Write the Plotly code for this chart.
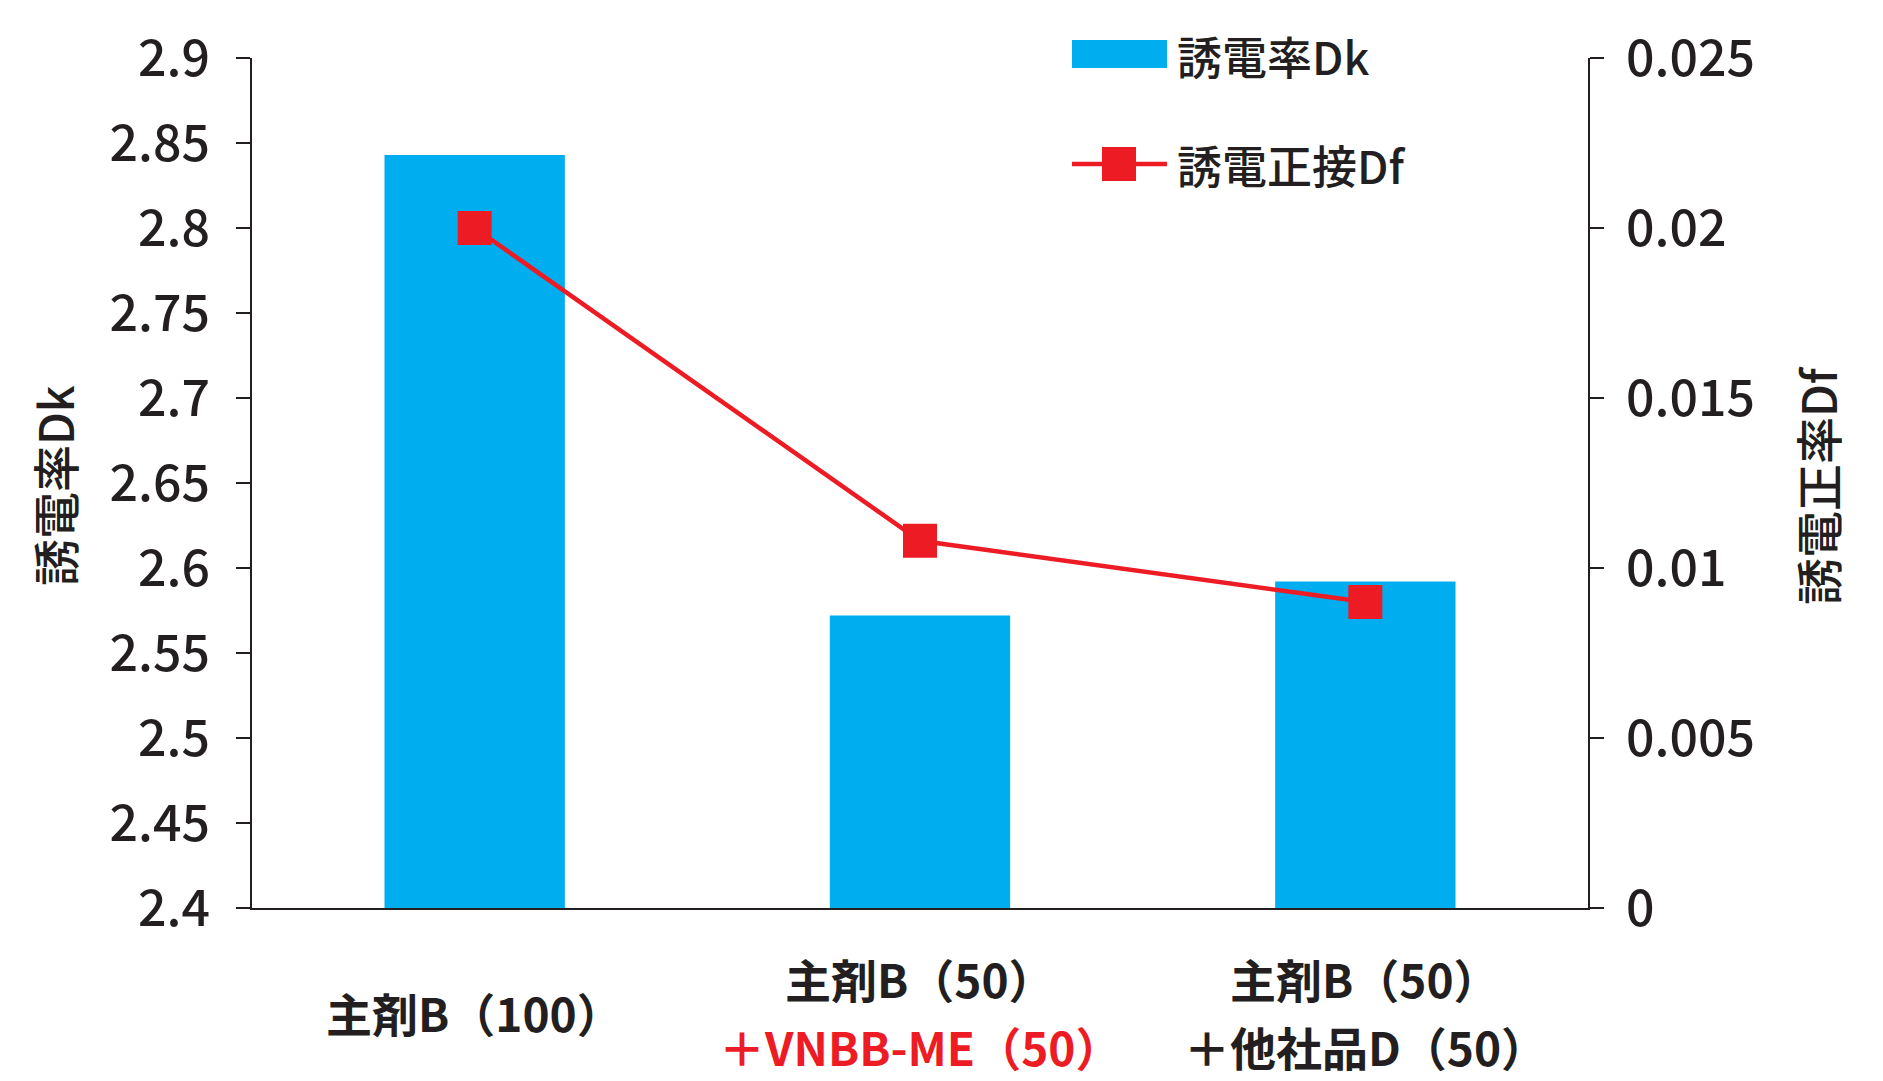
import plotly.graph_objects as go

categories = ["主剤B(100)", "主剤B(50)+VNBB-ME(50)", "主剤B(50)+他社品D(50)"]
label_line1 = ["主剤B（100）", "主剤B（50）", "主剤B（50）"]
label_line2 = ["", "＋VNBB-ME（50）", "＋他社品D（50）"]
label_line2_colors = ["#231F20", "#ED1C24", "#231F20"]
dk_values = [2.843, 2.572, 2.592]
df_values = [0.0200, 0.0108, 0.0090]
dk_ticks = [2.4, 2.45, 2.5, 2.55, 2.6, 2.65, 2.7, 2.75, 2.8, 2.85, 2.9]
df_ticks = [0, 0.005, 0.01, 0.015, 0.02, 0.025]

BLUE = "#00AEEF"
RED = "#ED1C24"
INK = "#231F20"
FONT = "Noto Sans CJK JP"

fig = go.Figure()
fig.add_trace(go.Bar(x=categories, y=dk_values, marker_color=BLUE, marker_line_width=0,
                     name="誘電率Dk", yaxis="y"))
fig.add_trace(go.Scatter(x=categories, y=df_values, mode="lines+markers", name="誘電正接Df",
                         line=dict(color=RED, width=4.5),
                         marker=dict(symbol="square", size=34, color=RED), yaxis="y2"))

W, H = 1883, 1081
L, R, T, B = 252, 1588, 58, 908
pw, ph = R - L, B - T

def px_x(x):
    return (x - L) / pw

def px_y(y):
    return (B - y) / ph

axis_common = dict(showgrid=False, zeroline=False, showline=True, linecolor=INK, linewidth=2,
                   ticks="outside", ticklen=14, tickwidth=2, tickcolor=INK,
                   tickfont=dict(family=FONT, size=50, color=INK, weight=500))

fig.update_layout(
    width=W, height=H,
    margin=dict(l=L, r=W - R, t=T, b=H - B),
    paper_bgcolor="white", plot_bgcolor="white",
    showlegend=False,
    bargap=0.595,
    xaxis=dict(showline=True, linecolor=INK, linewidth=2, showgrid=False, ticks="",
               showticklabels=False, range=[-0.5, 2.5]),
    yaxis=dict(range=[2.4, 2.9], tickvals=dk_ticks, ticktext=[f"{v:g}" for v in dk_ticks],
               ticklabelstandoff=16, **axis_common),
    yaxis2=dict(range=[0, 0.025], tickvals=df_ticks, ticktext=[f"{v:g}" for v in df_ticks],
                overlaying="y", side="right", ticklabelstandoff=12, **axis_common),
)

annotations = []
cat_font = dict(family=FONT, size=46, weight="bold")
for i, cat in enumerate(categories):
    if label_line2[i]:
        annotations.append(dict(x=cat, xref="x", y=px_y(978), yref="paper", text=label_line1[i],
                                showarrow=False, xanchor="center", yanchor="middle",
                                font=dict(color=INK, **cat_font)))
        annotations.append(dict(x=cat, xref="x", y=px_y(1046), yref="paper", text=label_line2[i],
                                showarrow=False, xanchor="center", yanchor="middle",
                                font=dict(color=label_line2_colors[i], **cat_font)))
    else:
        annotations.append(dict(x=cat, xref="x", y=px_y(1012), yref="paper", text=label_line1[i],
                                showarrow=False, xanchor="center", yanchor="middle",
                                font=dict(color=INK, **cat_font)))

title_font = dict(family=FONT, size=47, color=INK, weight=500)
annotations.append(dict(x=px_x(53), y=px_y(486), xref="paper", yref="paper", text="誘電率Dk",
                        textangle=-90, showarrow=False, xanchor="center", yanchor="middle",
                        font=title_font))
annotations.append(dict(x=px_x(1816), y=px_y(486), xref="paper", yref="paper", text="誘電正率Df",
                        textangle=-90, showarrow=False, xanchor="center", yanchor="middle",
                        font=title_font))

legend_font = dict(family=FONT, size=45, color=INK, weight=500)
annotations.append(dict(x=px_x(1175), y=px_y(56), xref="paper", yref="paper", text="誘電率Dk",
                        showarrow=False, xanchor="left", yanchor="middle", font=legend_font))
annotations.append(dict(x=px_x(1175), y=px_y(164), xref="paper", yref="paper", text="誘電正接Df",
                        showarrow=False, xanchor="left", yanchor="middle", font=legend_font))
fig.update_layout(annotations=annotations)

shapes = [
    dict(type="rect", xref="paper", yref="paper", x0=px_x(1072), x1=px_x(1167),
         y0=px_y(68), y1=px_y(40), fillcolor=BLUE, line_width=0),
    dict(type="line", xref="paper", yref="paper", x0=px_x(1072), x1=px_x(1167),
         y0=px_y(164), y1=px_y(164), line=dict(color=RED, width=4.5)),
    dict(type="rect", xref="paper", yref="paper", x0=px_x(1102), x1=px_x(1136),
         y0=px_y(181), y1=px_y(147), fillcolor=RED, line_width=0),
]
fig.update_layout(shapes=shapes)

fig.write_html("out.html")
